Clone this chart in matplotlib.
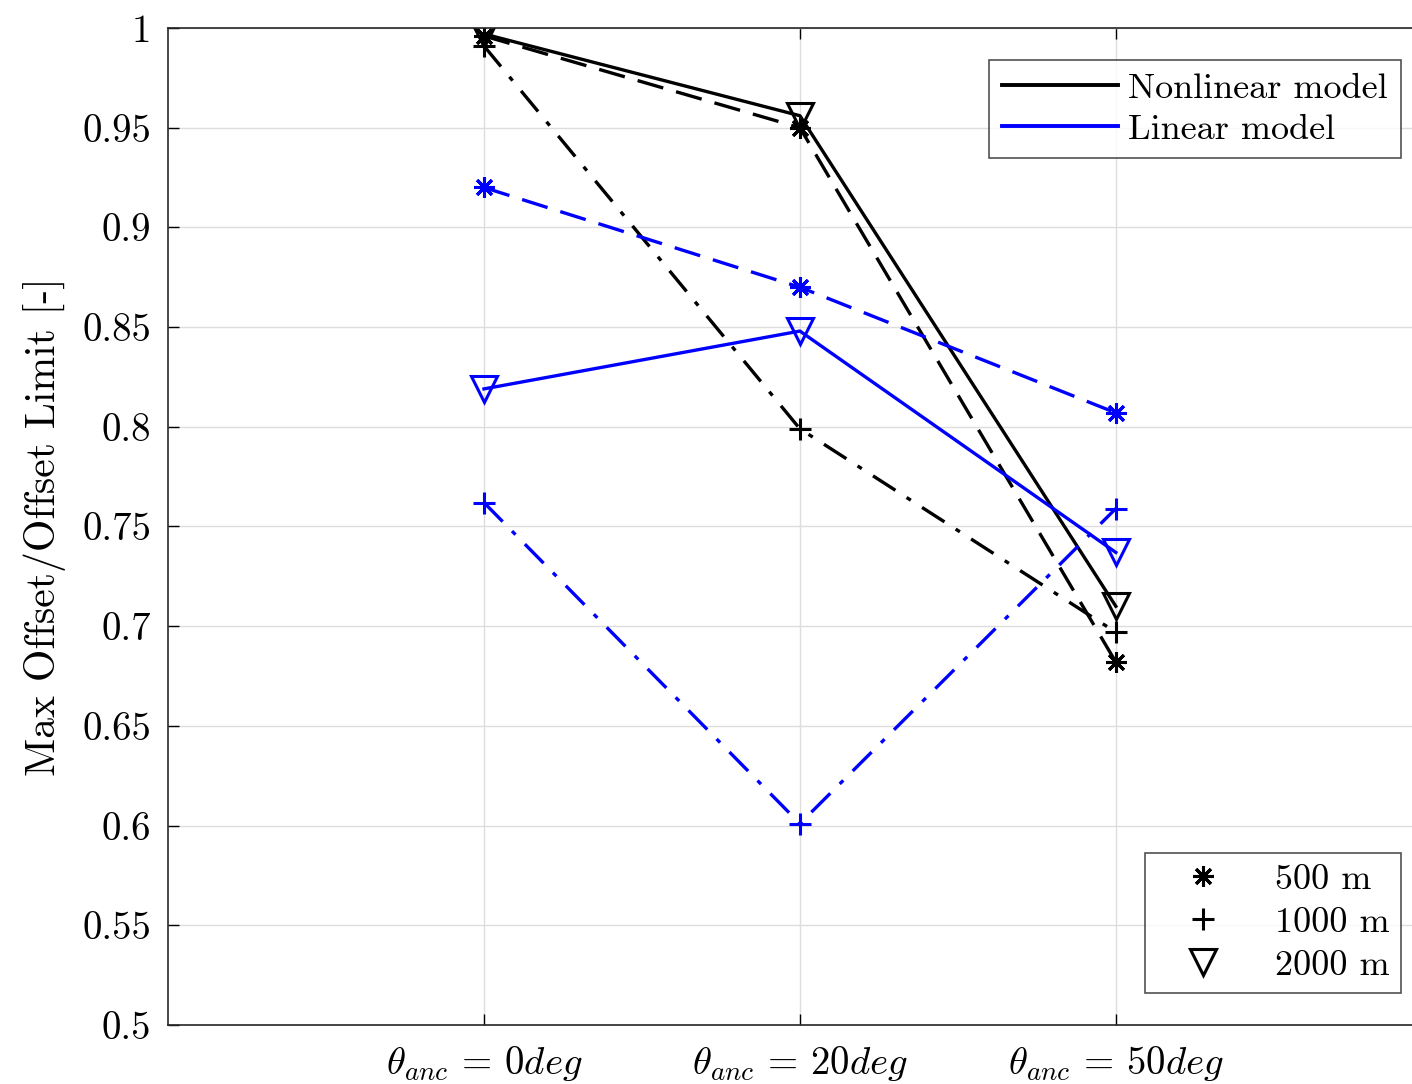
import matplotlib
matplotlib.use("Agg")
import matplotlib.pyplot as plt
from matplotlib.lines import Line2D

plt.rcParams['font.family'] = 'serif'
plt.rcParams['font.serif'] = ['cmr10']
plt.rcParams['mathtext.fontset'] = 'cm'
plt.rcParams['axes.formatter.use_mathtext'] = True
plt.rcParams['axes.unicode_minus'] = False

angles = [0, 1, 2]
tick_labels = [r'$\theta_{anc}\,=\,0deg$', r'$\theta_{anc}\,=\,20deg$', r'$\theta_{anc}\,=\,50deg$']

# nonlinear model results per line length
nl_500 = [0.996, 0.950, 0.682]
nl_1000 = [0.991, 0.799, 0.697]
nl_2000 = [0.997, 0.956, 0.710]

# linear model results per line length
lin_500 = [0.920, 0.870, 0.807]
lin_1000 = [0.762, 0.601, 0.759]
lin_2000 = [0.819, 0.848, 0.737]

star = (8, 2, 0)
lw = 2.4
dashed = (0, (8, 4))
dashdot = (0, (8, 4, 1.5, 4))

fig = plt.figure(figsize=(14.12, 10.84), dpi=100)
ax = fig.add_axes([0.119, 0.0544, 0.895, 0.9198])

ax.plot(angles, nl_500, color='k', ls=dashed, lw=lw, marker=star, ms=15, mew=2.2)
ax.plot(angles, nl_1000, color='k', ls=dashdot, lw=lw, marker='+', ms=16, mew=2.2)
ax.plot(angles, nl_2000, color='k', ls='-', lw=lw, marker='v', ms=19, mfc='none', mew=2.2)

ax.plot(angles, lin_500, color='b', ls=dashed, lw=lw, marker=star, ms=15, mew=2.2)
ax.plot(angles, lin_1000, color='b', ls=dashdot, lw=lw, marker='+', ms=16, mew=2.2)
ax.plot(angles, lin_2000, color='b', ls='-', lw=lw, marker='v', ms=19, mfc='none', mew=2.2)

ax.set_xlim(-1, 3)
ax.set_ylim(0.5, 1)
ax.set_xticks(angles)
ax.set_xticklabels(tick_labels)
ax.set_yticks([0.5, 0.55, 0.6, 0.65, 0.7, 0.75, 0.8, 0.85, 0.9, 0.95, 1])
ax.set_yticklabels(['0.5', '0.55', '0.6', '0.65', '0.7', '0.75', '0.8', '0.85', '0.9', '0.95', '1'])
ax.tick_params(direction='in', top=True, right=True, labelsize=28, length=8, width=1, pad=12)
ax.tick_params(axis='x', pad=14)
ax.grid(True, color='#dddddd', lw=1)
for s in ax.spines.values():
    s.set_linewidth(1.2)
    s.set_color('#262626')
ax.set_ylabel('Max Offset/Offset Limit [-]', fontsize=30, labelpad=12)

model_handles = [Line2D([], [], color='k', lw=2.8),
                 Line2D([], [], color='b', lw=2.8)]
leg1 = fig.legend(model_handles, ['Nonlinear model', 'Linear model'],
                  loc='upper right', bbox_to_anchor=(0.992, 0.945), fontsize=26,
                  frameon=True, fancybox=False, edgecolor='#262626',
                  handlelength=3.2, handletextpad=0.3, borderpad=0.35,
                  labelspacing=0.25, borderaxespad=0)
leg1.get_frame().set_linewidth(1.2)

size_handles = [Line2D([], [], color='k', ls='none', marker=star, ms=15, mew=2.2),
                Line2D([], [], color='k', ls='none', marker='+', ms=16, mew=2.2),
                Line2D([], [], color='k', ls='none', marker='v', ms=19, mfc='none', mew=2.2)]
leg2 = fig.legend(size_handles, ['500 m', '1000 m', '2000 m'],
                  loc='lower right', bbox_to_anchor=(0.992, 0.084), fontsize=26,
                  frameon=True, fancybox=False, edgecolor='#262626',
                  handlelength=2.6, handletextpad=0.7, borderpad=0.3,
                  labelspacing=0.3, borderaxespad=0)
leg2.get_frame().set_linewidth(1.2)

fig.savefig('out.png', dpi=100)
